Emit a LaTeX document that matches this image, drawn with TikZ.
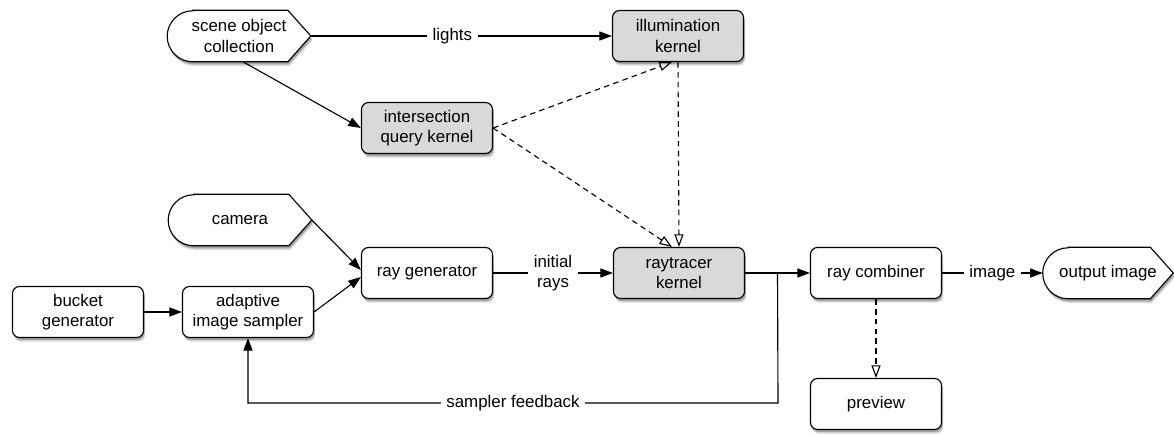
\documentclass[tikz,border=0pt]{standalone}
\usepackage{fontspec}
\setmainfont{Liberation Sans}
\usetikzlibrary{arrows.meta,positioning,calc,shadows,backgrounds}

\tikzset{
  boxshadow/.style={drop shadow={shadow xshift=1.2pt, shadow yshift=-3pt, opacity=0.15, fill=black},
                    drop shadow={shadow xshift=0.8pt, shadow yshift=-1.8pt, opacity=0.25, fill=black}},
  box/.style={draw, line width=0.8pt, rounded corners=5pt, fill=white, boxshadow,
              minimum width=3.275cm, minimum height=1.275cm, align=center,
              font=\fontsize{12}{14.5}\selectfont},
  kernel/.style={box, fill=black!15},
  terminal/.style={minimum width=3.575cm, minimum height=1.275cm, align=center,
                   font=\fontsize{12}{14.5}\selectfont},
  termline/.style={draw, line width=0.8pt, fill=white, boxshadow},
  flow/.style={-{Triangle[length=9pt,width=6.5pt]}, line width=0.8pt},
  dep/.style={dash pattern=on 4pt off 3pt, -{Triangle[open,length=9pt,width=6.5pt]}, line width=0.8pt},
  lbl/.style={fill=white, inner sep=4pt, align=center, font=\fontsize{12}{14.5}\selectfont}
}

\begin{document}
\begin{tikzpicture}[x=0.025cm, y=-0.025cm]
  \useasboundingbox (0,0) rectangle (1174,434);

  % sources and sinks
  \node[terminal] (scene) at (239,36) {scene object\\collection};
  \node[terminal] (camera) at (240,220) {camera};
  \node[terminal, minimum width=3.25cm] (output) at (1108,273) {output image};

  % kernels
  \node[kernel] (illum) at (678,36) {illumination\\kernel};
  \node[kernel] (intersect) at (427,128) {intersection\\query kernel};
  \node[kernel] (raytracer) at (679,273) {raytracer\\kernel};

  % other stages
  \node[box] (raygen) at (427,273) {ray generator};
  \node[box] (bucket) at (78,312) {bucket\\generator};
  \node[box] (sampler) at (248,312) {adaptive\\image sampler};
  \node[box] (combiner) at (876,273) {ray combiner};
  \node[box] (preview) at (876,404) {preview};

  % outlines of the terminals
  \begin{scope}[on background layer]
    \foreach \t in {scene,camera,output} {
      \draw[termline] ($(\t.north west)+(0.6375cm,0)$) -- ($(\t.north east)+(-0.575cm,0)$)
        -- (\t.east) -- ($(\t.south east)+(-0.575cm,0)$) -- ($(\t.south west)+(0.6375cm,0)$)
        arc[start angle=270, end angle=90, radius=0.6375cm] -- cycle;
    }
  \end{scope}

  % connectors
  \draw[flow] (scene.east) -- node[lbl, pos=0.47] {lights} (illum.west);
  \draw[flow] ($(scene.south)+(4,0)$) -- (intersect.west);
  \draw[dep] (intersect.east) -- ($(illum.south)+(-6,0)$);
  \draw[dep] (intersect.east) -- ($(raytracer.north)+(-7,0)$);
  \draw[dep] (illum.south) -- (raytracer.north);
  \draw[flow] (camera.east) -- ($(raygen.west)+(0,-3)$);
  \draw[flow] (sampler.east) -- ($(raygen.west)+(0,4)$);
  \draw[flow] (bucket) -- (sampler);
  \draw[flow] (raygen) -- node[lbl] {initial\\rays} (raytracer);
  \draw[flow] (raytracer) -- (combiner);
  \coordinate (split) at ($(raytracer.east)!0.5!(combiner.west)$);
  \coordinate (fbturn) at (778,403);
  \draw[flow] (split) -- (fbturn) -| node[lbl, pos=0.25] {sampler feedback} (sampler.south);
  \draw[flow] (combiner) -- node[lbl] {image} (output);
  \draw[dep] (combiner) -- (preview);
\end{tikzpicture}
\end{document}
